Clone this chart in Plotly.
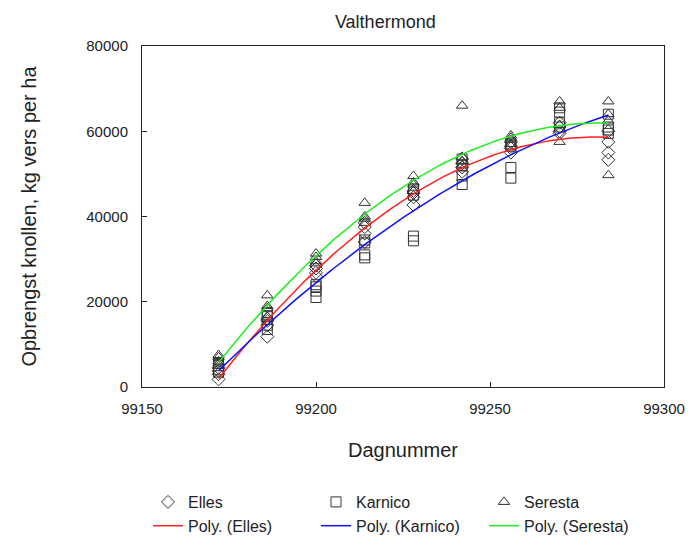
import numpy as np
import plotly.graph_objects as go

# Day numbers of the harvests
days = [99172, 99186, 99200, 99214, 99228, 99242, 99256, 99270, 99284]

# Yields (kg fresh per ha), four replicates per harvest date
elles = [
    [1800, 3000, 3800, 4500],
    [11800, 14500, 15500, 16000],
    [26000, 26800, 27800, 28500],
    [37500, 38500, 36000, 34000],
    [42700, 44500, 45500, 46000],
    [51500, 52500, 53500, 50500],
    [55000, 56500, 57500, 56000],
    [60000, 61000, 62000, 59500],
    [57500, 55000, 53300, 60000],
]
karnico = [
    [3500, 4000, 5000, 5500],
    [13500, 14500, 16500, 17500],
    [21000, 22500, 23500, 24000],
    [30300, 31000, 33800, 34500],
    [34300, 35400, 45000, 46500],
    [47500, 49500, 52000, 53500],
    [49000, 51500, 56500, 57000],
    [61000, 62000, 64500, 65500],
    [64000, 60300, 59500, 61000],
]
seresta = [
    [5500, 6000, 7000, 7500],
    [16500, 18500, 19000, 21500],
    [29000, 29500, 30500, 31300],
    [38500, 39500, 40000, 43200],
    [46000, 47500, 48000, 49500],
    [52000, 53000, 54000, 66000],
    [57000, 58000, 58500, 59000],
    [57500, 61500, 65500, 67000],
    [49700, 62500, 64000, 67000],
]

# Axis ticks
x_ticks = [99150, 99200, 99250, 99300]
x_labels = ["99150", "99200", "99250", "99300"]
y_ticks = [0, 20000, 40000, 60000, 80000]
y_labels = ["0", "20000", "40000", "60000", "80000"]

series = [
    ("Elles", elles, "diamond-open", "#ff2020"),
    ("Karnico", karnico, "square-open", "#1010ff"),
    ("Seresta", seresta, "triangle-up-open", "#20ee20"),
]

FONT = "Liberation Sans"
fig = go.Figure()

for name, vals, sym, col in series:
    xs, ys = [], []
    for d, reps in zip(days, vals):
        for v in reps:
            xs.append(d)
            ys.append(v)
    fig.add_trace(go.Scatter(
        x=xs, y=ys, mode="markers", name=name,
        marker=dict(symbol=sym, size=10, color="#333333",
                    line=dict(width=1, color="#333333")),
    ))

# Polynomial (2nd order) trendlines fitted on the data, as in the original
for name, vals, sym, col in series:
    xs, ys = [], []
    for d, reps in zip(days, vals):
        for v in reps:
            xs.append(d)
            ys.append(v)
    xs = np.array(xs, float)
    x0 = xs.mean()
    coef = np.polyfit(xs - x0, np.array(ys, float), 2)
    xf = np.linspace(days[0], days[-1], 120)
    yf = np.polyval(coef, xf - x0)
    fig.add_trace(go.Scatter(
        x=xf, y=yf, mode="lines", name="Poly. (" + name + ")",
        line=dict(color=col, width=1.5),
    ))

fig.update_layout(
    width=693, height=546,
    paper_bgcolor="white", plot_bgcolor="white",
    margin=dict(l=142, r=29, t=46, b=159),
    font=dict(family=FONT, size=14, color="#222222"),
    title=dict(text="Valthermond", x=0.556, xanchor="center", y=0.972,
               yanchor="top", font=dict(family=FONT, size=18, color="#222222")),
    showlegend=True,
    legend=dict(orientation="h", x=148 / 693, y=(546 - 485) / 546,
                xref="container", yref="container",
                xanchor="left", yanchor="top",
                entrywidth=123, entrywidthmode="pixels",
                font=dict(family=FONT, size=16, color="#222222"),
                tracegroupgap=2, itemwidth=30),
)
fig.update_xaxes(
    range=[99150, 99300], tickvals=x_ticks, ticktext=x_labels,
    ticks="inside", ticklen=5, tickcolor="#222222",
    showline=True, linecolor="#222222", linewidth=1, mirror=True,
    showgrid=False, zeroline=False, automargin=False,
    tickfont=dict(family=FONT, size=15), ticklabelstandoff=8,
    title=dict(text="Dagnummer", font=dict(family=FONT, size=20), standoff=26),
)
fig.update_yaxes(
    range=[0, 80000], tickvals=y_ticks, ticktext=y_labels,
    ticks="inside", ticklen=5, tickcolor="#222222",
    showline=True, linecolor="#222222", linewidth=1, mirror=True,
    showgrid=False, zeroline=False, automargin=False,
    tickfont=dict(family=FONT, size=15), ticklabelstandoff=10,
    title=dict(text="Opbrengst knollen, kg vers per ha", font=dict(family=FONT, size=20),
               standoff=44),
)

fig.write_html("out.html", config={"displayModeBar": False},
               post_script="document.body.style.margin='0px';")
